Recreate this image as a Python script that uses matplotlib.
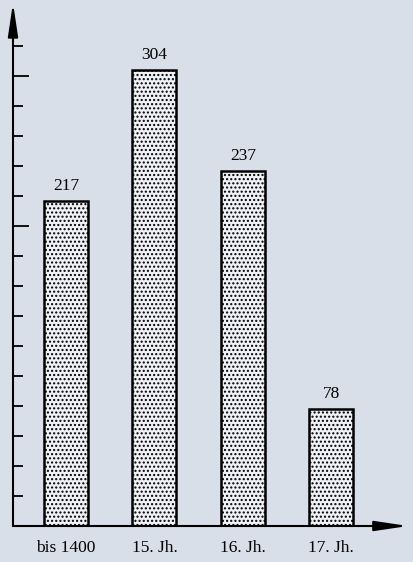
import matplotlib.pyplot as plt

categories = ["bis 1400", "15. Jh.", "16. Jh.", "17. Jh."]
values = [217, 304, 237, 78]
tick_values = list(range(20, 340, 20))
long_ticks = [200, 300]

bg = "#d9dfe9"
plt.rcParams["font.family"] = ["Liberation Serif", "DejaVu Serif"]
plt.rcParams["hatch.linewidth"] = 1.0
plt.rcParams["hatch.color"] = "#2a2440"

fig = plt.figure(figsize=(4.14, 5.62), dpi=100, facecolor=bg)
ax = fig.add_axes([13 / 414, 36 / 562, 395 / 414, 519 / 562])
ax.set_facecolor(bg)

x = list(range(len(categories)))
bars = ax.bar(x, values, width=0.5, color="#f0f1f6", edgecolor="black",
              linewidth=1.8, hatch="....")
for b, v in zip(bars, values):
    ax.annotate(str(v), (b.get_x() + b.get_width() / 2, v), xytext=(0, 5),
                textcoords="offset points", ha="center", va="bottom", fontsize=12.5)

ax.set_xlim(-0.6, 3.87)
ax.set_ylim(0, 346)

for s in ax.spines.values():
    s.set_visible(False)

arrow = dict(arrowstyle="-|>,head_length=2.0,head_width=0.3", lw=1.5,
             color="black", mutation_scale=10, shrinkA=0, shrinkB=0)
ax.annotate("", xy=(0, 1.008), xytext=(0, 0), xycoords="axes fraction", arrowprops=arrow)
ax.annotate("", xy=(1, 0), xytext=(0, 0), xycoords="axes fraction", arrowprops=arrow)

ax.set_xticks(x)
ax.set_xticklabels(categories, fontsize=12.5)
ax.tick_params(axis="x", length=0, pad=10)

ax.set_yticks(long_ticks)
ax.set_yticks([t for t in tick_values if t not in long_ticks], minor=True)
ax.tick_params(axis="y", which="major", direction="in", length=11.5, width=1.3,
               labelleft=False)
ax.tick_params(axis="y", which="minor", direction="in", length=7, width=1.3,
               labelleft=False)

fig.savefig("out.png", dpi=100, facecolor=bg)
